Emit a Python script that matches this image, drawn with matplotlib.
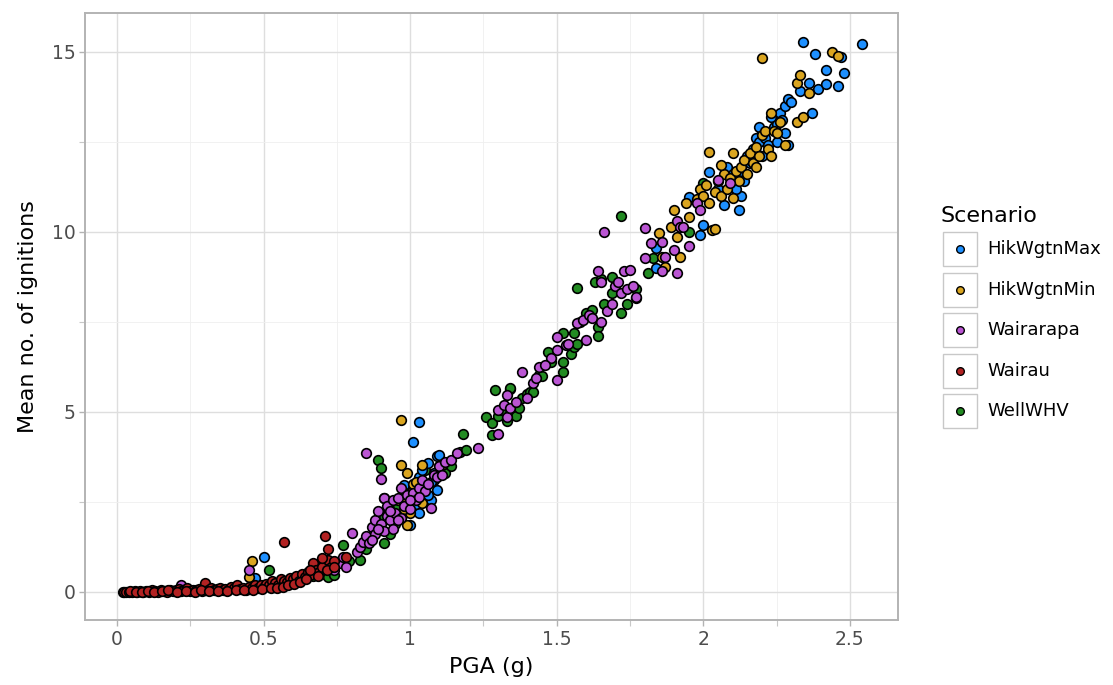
import matplotlib
matplotlib.use("Agg")
import matplotlib.pyplot as plt
from matplotlib.patches import Rectangle
from matplotlib.lines import Line2D

plt.rcParams['font.family'] = ['DejaVu Sans']

# ---------------- data (PGA in g, mean no. of ignitions) ----------------
scenarios = ["HikWgtnMax", "HikWgtnMin", "Wairarapa", "Wairau", "WellWHV"]
colors = ["#1E90FF", "#DAA520", "#BA55D3", "#B22222", "#228B22"]

hik_max = [(0.47, 0.38), (0.50, 0.98), (0.98, 2.97), (1.00, 1.86), (1.01, 4.16), (1.01, 2.75),
           (1.03, 4.73), (1.03, 3.20), (1.03, 2.19), (1.05, 2.90), (1.06, 3.58), (1.07, 2.56),
           (1.07, 3.05), (1.08, 3.30), (1.09, 3.78), (1.09, 2.83), (1.10, 3.80), (1.02, 2.45),
           (1.04, 3.40), (1.06, 2.70),
           (1.84, 9.55), (1.84, 9.00), (1.95, 10.97), (1.99, 9.92), (2.00, 10.20), (2.02, 11.67),
           (2.05, 11.20), (2.07, 10.75), (2.08, 11.80), (2.10, 11.60), (2.12, 10.60), (2.13, 11.00),
           (2.13, 11.70), (2.15, 12.10), (2.16, 11.90), (2.17, 12.30), (2.18, 12.20), (2.18, 12.60),
           (2.19, 12.50), (2.20, 12.80), (2.20, 12.10), (2.21, 12.60), (2.22, 12.40), (2.24, 12.90),
           (2.25, 12.50), (2.25, 13.00), (2.26, 13.30), (2.27, 13.10), (2.28, 12.75), (2.28, 13.50),
           (2.29, 13.70), (2.29, 12.40), (2.30, 13.60), (2.33, 13.90), (2.34, 15.28), (2.36, 14.14),
           (2.37, 13.30), (2.38, 14.94), (2.39, 13.97), (2.42, 14.50), (2.42, 14.10), (2.46, 14.06),
           (2.47, 14.86), (2.48, 14.40), (2.54, 15.22), (2.14, 11.40), (2.16, 12.00), (2.11, 11.20),
           (2.09, 11.50), (2.19, 12.90), (2.23, 13.20)]

hik_min = [(0.45, 0.42), (0.46, 0.86), (0.97, 4.78), (0.97, 3.53), (0.99, 3.30), (1.04, 3.53),
           (1.11, 3.53), (0.96, 2.55), (0.98, 2.50), (0.99, 1.86), (1.00, 2.20), (1.00, 2.75),
           (1.01, 3.00), (1.02, 2.60), (1.03, 2.85), (1.04, 2.47), (1.02, 3.05), (0.98, 2.30),
           (1.77, 8.17), (1.85, 9.97), (1.86, 9.30), (1.87, 9.03), (1.89, 10.14), (1.90, 10.60),
           (1.91, 9.86), (1.92, 9.30), (1.94, 10.80), (1.98, 10.90), (1.99, 11.20), (2.00, 11.00),
           (2.01, 11.30), (2.02, 12.22), (2.02, 10.80), (2.03, 10.05), (2.04, 11.10), (2.04, 10.08),
           (2.05, 11.40), (2.06, 11.00), (2.07, 11.60), (2.08, 11.20), (2.09, 11.50), (2.10, 12.19),
           (2.10, 10.95), (2.11, 11.70), (2.12, 11.40), (2.13, 11.80), (2.14, 12.00), (2.15, 11.60),
           (2.16, 12.20), (2.17, 11.90), (2.18, 11.80), (2.18, 12.35), (2.19, 12.10), (2.20, 14.83),
           (2.20, 12.70), (2.21, 12.80), (2.22, 12.30), (2.23, 13.30), (2.23, 12.10), (2.24, 12.80),
           (2.25, 12.75), (2.26, 13.05), (2.28, 12.40), (2.32, 13.06), (2.32, 14.14), (2.33, 14.36),
           (2.34, 13.20), (2.36, 13.86), (2.44, 15.00), (2.46, 14.89), (1.95, 10.40), (2.06, 11.85)]

wairarapa = [(0.22, 0.20), (0.45, 0.61), (0.74, 0.62), (0.76, 0.80), (0.77, 0.97), (0.78, 0.70),
             (0.80, 1.63), (0.82, 1.10), (0.83, 1.25), (0.84, 1.40), (0.85, 3.85), (0.85, 1.55),
             (0.86, 1.35), (0.87, 1.80), (0.88, 2.00), (0.88, 1.60), (0.89, 2.25), (0.90, 3.14),
             (0.90, 1.90), (0.91, 2.60), (0.91, 1.70), (0.92, 2.10), (0.92, 2.40), (0.93, 2.00),
             (0.94, 2.55), (0.94, 1.75), (0.95, 2.20), (0.96, 2.60), (0.97, 2.05), (0.97, 2.90),
             (0.98, 2.40), (0.99, 2.70), (1.00, 2.30), (1.01, 2.75), (1.02, 2.55), (1.03, 2.90),
             (1.04, 3.10), (1.05, 2.80), (1.06, 3.00), (1.07, 2.33), (1.08, 3.25), (1.09, 3.20),
             (1.10, 3.50), (1.11, 3.25), (1.12, 3.60), (1.14, 3.67), (1.16, 3.86), (1.23, 4.00),
             (1.30, 4.40), (1.30, 5.06), (1.32, 5.20), (1.33, 5.47), (1.33, 4.86), (1.34, 5.10),
             (1.36, 5.28), (1.38, 6.10), (1.40, 5.39), (1.42, 5.80), (1.43, 5.94), (1.44, 6.25),
             (1.50, 5.89), (1.50, 7.08), (1.50, 6.72), (1.53, 6.85), (1.54, 6.90), (1.57, 7.47),
             (1.59, 7.55), (1.60, 7.00), (1.61, 7.70), (1.62, 7.60), (1.64, 8.90), (1.65, 8.60),
             (1.65, 7.50), (1.66, 10.00), (1.67, 7.80), (1.69, 8.00), (1.70, 8.50), (1.71, 8.60),
             (1.72, 8.30), (1.73, 8.90), (1.74, 8.40), (1.75, 8.95), (1.76, 8.50), (1.77, 8.20),
             (1.80, 10.10), (1.80, 9.27), (1.82, 9.70), (1.86, 9.72), (1.86, 8.90), (1.87, 9.30),
             (1.90, 9.50), (1.91, 8.86), (1.91, 10.30), (1.92, 10.14), (1.93, 10.14), (1.95, 9.60),
             (1.98, 10.80), (1.99, 10.60), (2.05, 11.44), (2.09, 11.36), (1.48, 6.50), (1.46, 6.30),
             (0.87, 1.45), (0.89, 1.75), (0.93, 2.25), (0.96, 2.00), (1.00, 2.55), (1.03, 2.65)]

wairau = [(0.02, 0.00), (0.025, 0.01), (0.03, 0.00), (0.04, 0.01), (0.05, 0.00), (0.06, 0.02),
          (0.07, 0.00), (0.08, 0.03), (0.09, 0.01), (0.10, 0.02), (0.11, 0.00), (0.12, 0.04),
          (0.13, 0.02), (0.14, 0.01), (0.15, 0.05), (0.16, 0.03), (0.17, 0.00), (0.18, 0.06),
          (0.19, 0.02), (0.20, 0.04), (0.21, 0.08), (0.22, 0.03), (0.23, 0.05), (0.24, 0.10),
          (0.25, 0.02), (0.26, 0.06), (0.27, 0.04), (0.28, 0.08), (0.29, 0.03), (0.30, 0.25),
          (0.31, 0.05), (0.32, 0.10), (0.33, 0.04), (0.34, 0.07), (0.35, 0.12), (0.36, 0.05),
          (0.37, 0.09), (0.38, 0.06), (0.39, 0.14), (0.40, 0.10), (0.41, 0.20), (0.42, 0.08),
          (0.43, 0.12), (0.44, 0.05), (0.45, 0.15), (0.46, 0.10), (0.47, 0.18), (0.48, 0.12),
          (0.49, 0.20), (0.50, 0.15), (0.51, 0.22), (0.52, 0.18), (0.53, 0.30), (0.54, 0.25),
          (0.55, 0.20), (0.56, 0.35), (0.57, 1.40), (0.57, 0.30), (0.58, 0.28), (0.59, 0.40),
          (0.60, 0.35), (0.61, 0.45), (0.62, 0.30), (0.63, 0.50), (0.64, 0.42), (0.65, 0.55),
          (0.66, 0.48), (0.67, 0.80), (0.68, 0.60), (0.69, 0.55), (0.70, 0.70), (0.71, 1.55),
          (0.72, 1.20), (0.72, 0.90), (0.73, 0.68), (0.74, 0.85), (0.78, 0.98),
          (0.045, 0.02), (0.065, 0.01), (0.085, 0.00), (0.105, 0.03), (0.125, 0.01), (0.155, 0.02),
          (0.175, 0.04), (0.205, 0.01), (0.235, 0.02), (0.265, 0.01), (0.285, 0.05), (0.315, 0.02),
          (0.345, 0.03), (0.375, 0.02), (0.405, 0.04), (0.435, 0.06), (0.465, 0.05), (0.495, 0.08),
          (0.525, 0.10), (0.545, 0.12), (0.565, 0.15), (0.585, 0.18), (0.605, 0.22), (0.625, 0.28),
          (0.645, 0.35), (0.66, 0.62), (0.685, 0.45), (0.70, 0.95), (0.715, 0.60), (0.74, 0.70)]

well_whv = [(0.30, 0.05), (0.35, 0.08), (0.42, 0.10), (0.52, 0.61), (0.55, 0.25), (0.60, 0.30),
            (0.64, 0.40), (0.67, 0.45), (0.70, 0.50), (0.72, 0.42), (0.74, 0.48), (0.77, 1.30),
            (0.79, 0.85), (0.83, 0.90), (0.85, 1.20), (0.87, 1.50), (0.89, 3.67), (0.90, 3.44),
            (0.91, 2.10), (0.91, 2.60), (0.91, 1.35), (0.93, 1.60), (0.95, 1.90), (0.96, 2.40),
            (0.98, 2.20), (1.00, 2.60), (1.02, 2.40), (1.05, 3.40), (1.08, 3.10), (1.10, 3.50),
            (1.12, 3.30), (1.14, 3.50), (1.17, 3.90), (1.18, 4.40), (1.19, 3.95), (1.26, 4.86),
            (1.28, 4.36), (1.28, 4.70), (1.29, 5.60), (1.30, 4.90), (1.31, 5.05), (1.33, 4.75),
            (1.34, 5.63), (1.34, 5.67), (1.36, 4.90), (1.37, 5.10), (1.38, 5.40), (1.40, 5.50),
            (1.41, 5.55), (1.42, 5.55), (1.44, 6.03), (1.45, 6.00), (1.47, 6.67), (1.48, 6.40),
            (1.52, 6.10), (1.52, 6.40), (1.52, 7.20), (1.55, 6.60), (1.56, 7.20), (1.56, 6.80),
            (1.57, 6.90), (1.57, 8.45), (1.58, 7.50), (1.60, 7.75), (1.62, 7.83), (1.63, 8.60),
            (1.64, 7.36), (1.64, 7.10), (1.65, 8.70), (1.66, 8.00), (1.69, 8.75), (1.69, 8.30),
            (1.72, 10.45), (1.72, 7.75), (1.74, 8.00), (1.77, 8.40), (1.81, 8.85), (1.83, 9.27),
            (1.95, 10.00), (2.00, 11.36)]

series = [hik_max, hik_min, wairarapa, wairau, well_whv]
draw_order = [4, 0, 1, 2, 3]  # WellWHV underneath, Wairau on top

x_ticks = [0, 0.5, 1, 1.5, 2, 2.5]
x_tick_labels = ["0", "0.5", "1", "1.5", "2", "2.5"]
y_ticks = [0, 5, 10, 15]
y_tick_labels = ["0", "5", "10", "15"]

# ---------------- figure ----------------
W, H = 1113, 685
fig = plt.figure(figsize=(W / 100, H / 100), dpi=100)
ax = fig.add_axes([85 / W, 1 - 620 / H, (898 - 85) / W, (620 - 13) / H])

for k in draw_order:
    xs, ys = zip(*series[k])
    ax.scatter(xs, ys, s=48, c=colors[k], edgecolors="black", linewidths=1.2,
               zorder=3, label=scenarios[k])

ax.set_xlim(-0.109, 2.664)
ax.set_ylim(-0.78, 16.08)
ax.set_xticks(x_ticks)
ax.set_xticklabels(x_tick_labels)
ax.set_yticks(y_ticks)
ax.set_yticklabels(y_tick_labels)
ax.set_xticks([0.25, 0.75, 1.25, 1.75, 2.25], minor=True)
ax.set_yticks([2.5, 7.5, 12.5], minor=True)

ax.grid(which="major", color="#dedede", linewidth=1.0, zorder=0)
ax.grid(which="minor", color="#efefef", linewidth=0.6, zorder=0)
ax.set_axisbelow(True)
for sp in ax.spines.values():
    sp.set_color("#b3b3b3")
    sp.set_linewidth(1.4)
ax.tick_params(which="major", length=4, width=1.0, color="#b3b3b3",
               labelcolor="#4d4d4d", labelsize=13.5, pad=3)
ax.tick_params(which="minor", length=4, width=0.8, color="#c8c8c8")

ax.set_xlabel("PGA (g)", fontsize=16, color="black", labelpad=6)
ax.set_ylabel("Mean no. of ignitions", fontsize=16, color="black", labelpad=10)

# ---------------- legend (ggplot style) ----------------
def fx(px):
    return px / W

def fy(py):
    return 1 - py / H

fig.text(fx(941), fy(216), "Scenario", fontsize=16, va="center", ha="left")
for i, (name, col) in enumerate(zip(scenarios, colors)):
    top = 232 + i * 40.5
    fig.add_artist(Rectangle((fx(943), fy(top + 34)), 34 / W, 34 / H,
                             transform=fig.transFigure, facecolor="white",
                             edgecolor="#c8c8c8", linewidth=1.0))
    fig.add_artist(Line2D([fx(960)], [fy(top + 17)], transform=fig.transFigure,
                          marker="o", markersize=5.5, markerfacecolor=col,
                          markeredgecolor="black", markeredgewidth=1.0, linestyle="none"))
    fig.text(fx(987), fy(top + 17), name, fontsize=13, va="center", ha="left", color="black")

fig.savefig("out.png", dpi=100)
